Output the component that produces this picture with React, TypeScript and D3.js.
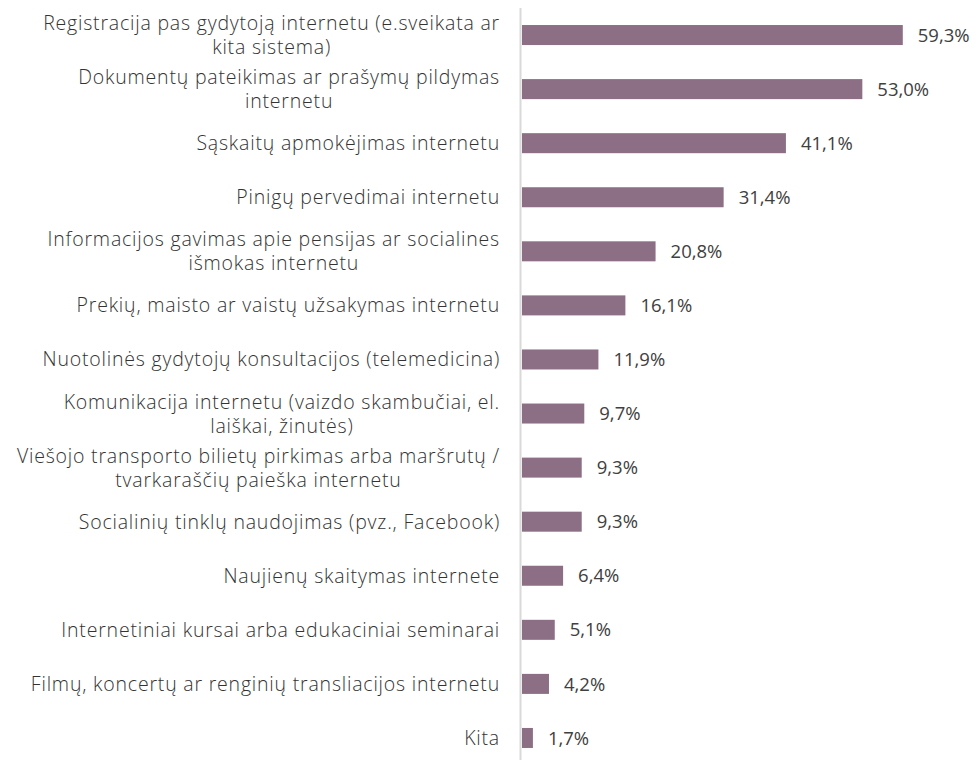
import { useEffect, useRef } from "react";
import * as d3 from "d3";

// category labels, already split into lines as in the source chart
const categories: string[][] = [
  ["Registracija pas gydytoją internetu (e.sveikata ar", "kita sistema)"],
  ["Dokumentų pateikimas ar prašymų pildymas", "internetu"],
  ["Sąskaitų apmokėjimas internetu"],
  ["Pinigų pervedimai internetu"],
  ["Informacijos gavimas apie pensijas ar socialines", "išmokas internetu"],
  ["Prekių, maisto ar vaistų užsakymas internetu"],
  ["Nuotolinės gydytojų konsultacijos (telemedicina)"],
  ["Komunikacija internetu (vaizdo skambučiai, el.", "laiškai, žinutės)"],
  ["Viešojo transporto bilietų pirkimas arba maršrutų /", "tvarkaraščių paieška internetu"],
  ["Socialinių tinklų naudojimas (pvz., Facebook)"],
  ["Naujienų skaitymas internete"],
  ["Internetiniai kursai arba edukaciniai seminarai"],
  ["Filmų, koncertų ar renginių transliacijos internetu"],
  ["Kita"],
];

const values: number[] = [59.3, 53.0, 41.1, 31.4, 20.8, 16.1, 11.9, 9.7, 9.3, 9.3, 6.4, 5.1, 4.2, 1.7];

const W = 977;
const H = 760;

const App = () => {
  const ref = useRef<SVGSVGElement>(null);

  useEffect(() => {
    const svg = d3.select(ref.current);
    svg.selectAll("*").remove();

    const data = categories.map((lines, i) => ({ key: String(i), lines, value: values[i] }));

    const y = d3
      .scaleBand()
      .domain(data.map((d) => d.key))
      .range([8, 765])
      .paddingInner(0.63)
      .paddingOuter(0.315);

    const x = d3.scaleLinear().domain([0, 70]).range([522, 971.5]);

    svg
      .append("g")
      .selectAll("rect")
      .data(data)
      .enter()
      .append("rect")
      .attr("x", x(0))
      .attr("y", (d) => y(d.key)!)
      .attr("width", (d) => x(d.value) - x(0))
      .attr("height", y.bandwidth())
      .attr("fill", "#8c6e85");

    // vertical axis line
    svg
      .append("line")
      .attr("x1", 520.5)
      .attr("x2", 520.5)
      .attr("y1", 8)
      .attr("y2", H)
      .attr("stroke", "#d9d9d9")
      .attr("stroke-width", 2);

    // value labels
    svg
      .append("g")
      .selectAll("text")
      .data(data)
      .enter()
      .append("text")
      .attr("x", (d) => x(d.value) + 15)
      .attr("y", (d) => y(d.key)! + y.bandwidth() / 2)
      .attr("dy", "0.36em")
      .attr("font-family", "'Open Sans', sans-serif")
      .attr("font-size", 18.5)
      .attr("fill", "#404040")
      .text((d) => d.value.toFixed(1).replace(".", ",") + "%");

    // category labels: block right-aligned, lines centred within it
    const lineH = 24;
    const labelRight = 500;
    const groups = svg
      .append("g")
      .selectAll("g")
      .data(data)
      .enter()
      .append("g");

    groups.each(function (d) {
      const g = d3.select(this);
      const cy = y(d.key)! + y.bandwidth() / 2;
      const n = d.lines.length;
      const texts = d.lines.map((line, j) =>
        g
          .append("text")
          .attr("y", cy + (j - (n - 1) / 2) * lineH)
          .attr("dy", "0.36em")
          .attr("font-family", "'Open Sans', sans-serif")
          .attr("font-weight", 300)
          .attr("font-size", 19.5)
          .attr("letter-spacing", 0.8)
          .attr("fill", "#333333")
          .attr("text-anchor", "middle")
          .text(line)
      );
      const widths = texts.map((t) => (t.node() as SVGTextElement).getComputedTextLength());
      const maxW = d3.max(widths) ?? 0;
      texts.forEach((t) => t.attr("x", labelRight - maxW / 2));
    });
  }, []);

  return (
    <svg
      ref={ref}
      width={W}
      height={H}
      style={{ position: "absolute", left: 0, top: 0, background: "#fff" }}
    />
  );
};

export default App;
